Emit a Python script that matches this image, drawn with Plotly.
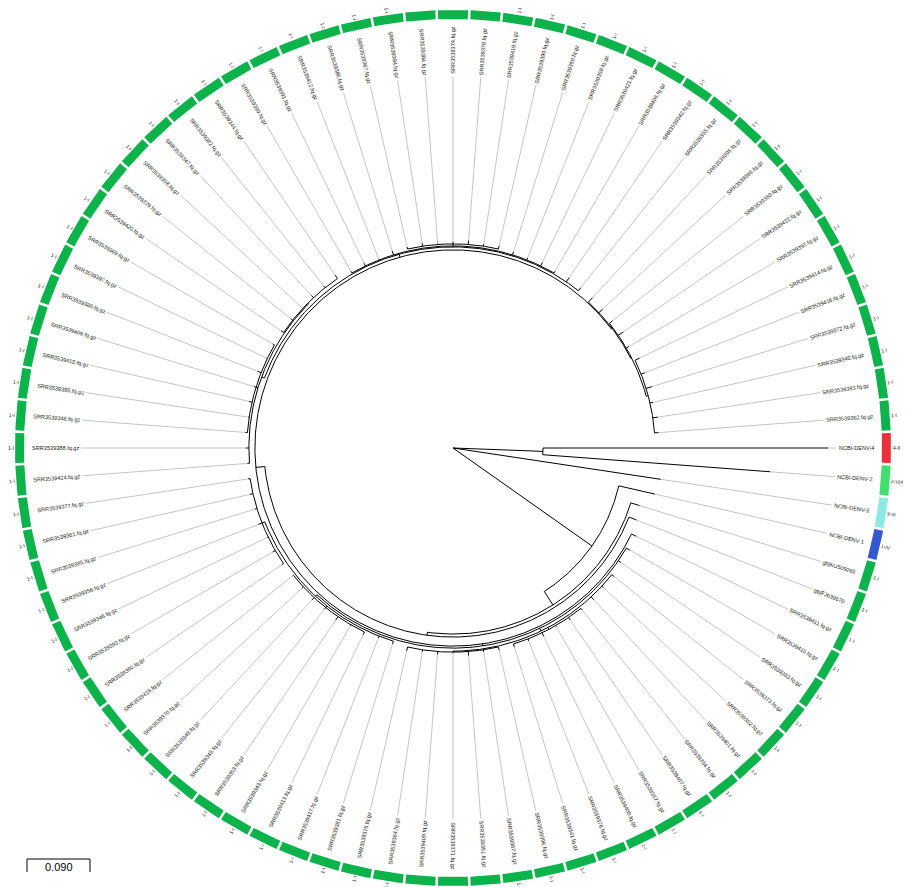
import math
import plotly.graph_objects as go

# ---------------- data ----------------
tip_labels = [
    "NCBI-DENV-4", "NCBI-DENV-2", "NCBI-DENV-3", "NCBI-DENV-1", "gb|KU509265", "gb|FJ639670",
    "SRR3539411.fq.gz", "SRR3539415.fq.gz", "SRR3539363.fq.gz", "SRR3539373.fq.gz",
    "SRR3539352.fq.gz", "SRR3539401.fq.gz", "SRR3539354.fq.gz", "SRR3539407.fq.gz",
    "SRR3539357.fq.gz", "SRR3539400.fq.gz", "SRR3539376.fq.gz", "SRR3539341.fq.gz",
    "SRR3539396.fq.gz", "SRR3539387.fq.gz", "SRR3539351.fq.gz", "SRR3539371.fq.gz",
    "SRR3539409.fq.gz", "SRR3539364.fq.gz", "SRR3539375.fq.gz", "SRR3539381.fq.gz",
    "SRR3539417.fq.gz", "SRR3539413.fq.gz", "SRR3539343.fq.gz", "SRR3539353.fq.gz",
    "SRR3539345.fq.gz", "SRR3539349.fq.gz", "SRR3539370.fq.gz", "SRR3539418.fq.gz",
    "SRR3539360.fq.gz", "SRR3539393.fq.gz", "SRR3539346.fq.gz", "SRR3539356.fq.gz",
    "SRR3539385.fq.gz", "SRR3539361.fq.gz", "SRR3539377.fq.gz", "SRR3539424.fq.gz",
    "SRR3539388.fq.gz", "SRR3539348.fq.gz", "SRR3539395.fq.gz", "SRR3539410.fq.gz",
    "SRR3539408.fq.gz", "SRR3539380.fq.gz", "SRR3539397.fq.gz", "SRR3539369.fq.gz",
    "SRR3539420.fq.gz", "SRR3539379.fq.gz", "SRR3539358.fq.gz", "SRR3539347.fq.gz",
    "SRR3539382.fq.gz", "SRR3539344.fq.gz", "SRR3539399.fq.gz", "SRR3539391.fq.gz",
    "SRR3539412.fq.gz", "SRR3539386.fq.gz", "SRR3539367.fq.gz", "SRR3539394.fq.gz",
    "SRR3539384.fq.gz", "SRR3539374.fq.gz", "SRR3539378.fq.gz", "SRR3539419.fq.gz",
    "SRR3539390.fq.gz", "SRR3539350.fq.gz", "SRR3539359.fq.gz", "SRR3539421.fq.gz",
    "SRR3539406.fq.gz", "SRR3539342.fq.gz", "SRR3539355.fq.gz", "SRR3539398.fq.gz",
    "SRR3539366.fq.gz", "SRR3539389.fq.gz", "SRR3539422.fq.gz", "SRR3539392.fq.gz",
    "SRR3539414.fq.gz", "SRR3539416.fq.gz", "SRR3539372.fq.gz", "SRR3539340.fq.gz",
    "SRR3539383.fq.gz", "SRR3539362.fq.gz",
]

genotypes = ["4-II", "2-V(Asian)", "3-III", "1-IV"] + ["1-I"] * 80

genotype_colors = {
    "4-II": "#E8313A",
    "2-V(Asian)": "#3FE06D",
    "3-III": "#8DEBE3",
    "1-IV": "#3557CF",
    "1-I": "#0BB34A",
}

# tree topology with branch lengths (leaves refer to tip_labels by index)
newick = """
((0:0.4071,1:0.3257):0.1286,2:0.300,(3:0.0529,(4:0.0129,(5:0.0114,(6:0.0071,
(7:0.0057,8:0.0043,
 (9:0.0043,10:0.0029,11:0.0057,
  (12:0.0029,13:0.0043,14:0.0014,15:0.0057,16:0.0029,17:0.0043):0.0029,
  (18:0.0043,19:0.0029,20:0.0057,21:0.0014,22:0.0043,23:0.0029,24:0.0057):0.0014):0.0043,
 (25:0.0043,26:0.0029,
  (27:0.0043,28:0.0014,29:0.0057,30:0.0029,31:0.0043,32:0.0029,33:0.0014):0.0029,
  (34:0.0029,35:0.0043,36:0.0014,37:0.0057,38:0.0029,39:0.0043,40:0.0029):0.0043):0.0029):0.0029,
((41:0.0029,42:0.0043,
  (43:0.0029,44:0.0014,45:0.0043,46:0.0029,47:0.0057,48:0.0014,49:0.0029):0.0029,
  (50:0.0043,51:0.0029,52:0.0014,53:0.0043,54:0.0029,55:0.0057):0.0014):0.0043,
 (56:0.0029,57:0.0043,58:0.0014,59:0.0057,
  (60:0.0029,61:0.0043,62:0.0014,63:0.0029,64:0.0057,65:0.0029,66:0.0043):0.0029,
  67:0.0043,68:0.0029,69:0.0057,70:0.0029):0.0014,
 71:0.0071,72:0.0057):0.0043,
(73:0.0086,74:0.0071,
 (75:0.0057,76:0.0086,77:0.0043,
  (78:0.0071,79:0.0057,80:0.0086,81:0.0043,82:0.0071,83:0.0057):0.0029):0.0014):0.0014
):0.0129):0.0043):0.0229):0.2429);
"""

scale_bar_value = 0.090
scale_bar_label = "0.090"

# ---------------- geometry constants (figure pixels; page adds an 8px body margin) ----------------
W, H = 903, 879
CX, CY = 445, 440          # tree centre in figure pixels
PX = 700.0                 # pixels per branch-length unit
LABEL_END_PX = 421
RING_IN_PX, RING_OUT_PX = 429, 438
RING_LABEL_PX = 438.5
TIP_FONT = 5.6
RING_FONT = 5.0
FONT_FAMILY = "Liberation Sans, Arial, Helvetica, sans-serif"

# Arial-compatible glyph widths (per 1000 em)
CW = {c: 556 for c in "0123456789"}
CW.update({"S": 667, "R": 722, ".": 278, "f": 278, "q": 556, "g": 556, "z": 500,
           "N": 722, "C": 722, "B": 667, "I": 278, "-": 333, "D": 722, "E": 667,
           "V": 667, "b": 556, "|": 260, "K": 667, "U": 722, "F": 611, "J": 500,
           "A": 667, "s": 500, "i": 222, "a": 556, "n": 556, "(": 333, ")": 333})


def text_w(t, size):
    return sum(CW.get(c, 556) for c in t) / 1000.0 * size


# ---------------- parse newick ----------------
def parse_newick(s):
    s = "".join(s.split())
    pos = 0

    def node():
        nonlocal pos
        n = {"children": [], "name": None, "len": 0.0}
        if s[pos] == "(":
            pos += 1
            while True:
                n["children"].append(node())
                if s[pos] == ",":
                    pos += 1
                    continue
                if s[pos] == ")":
                    pos += 1
                    break
        st = pos
        while pos < len(s) and s[pos] not in ",():;":
            pos += 1
        nm = s[st:pos]
        n["name"] = nm if nm else None
        if pos < len(s) and s[pos] == ":":
            pos += 1
            st = pos
            while pos < len(s) and s[pos] not in ",();":
                pos += 1
            n["len"] = float(s[st:pos])
        return n

    return node()


root = parse_newick(newick)
n_leaves = len(tip_labels)
step = 360.0 / n_leaves
counter = [0]
leaves = []


def layout(n, r0):
    n["r"] = r0 + n["len"]
    if not n["children"]:
        n["theta"] = -counter[0] * step
        counter[0] += 1
        leaves.append(n)
    else:
        for c in n["children"]:
            layout(c, n["r"])
        n["theta"] = (n["children"][0]["theta"] + n["children"][-1]["theta"]) / 2.0


layout(root, 0.0)


def pol(r, th):
    a = math.radians(th)
    return r * math.cos(a), r * math.sin(a)


# ---------------- tree edges ----------------
ex, ey = [], []


def edges(n):
    for c in n["children"]:
        x0, y0 = pol(n["r"], c["theta"])
        x1, y1 = pol(c["r"], c["theta"])
        ex.extend([x0, x1, None])
        ey.extend([y0, y1, None])
        edges(c)
    if n["children"] and n["r"] > 0:
        t0 = n["children"][0]["theta"]
        t1 = n["children"][-1]["theta"]
        k = max(2, int(abs(t1 - t0) / 0.5) + 1)
        for i in range(k + 1):
            x, y = pol(n["r"], t0 + (t1 - t0) * i / k)
            ex.append(x)
            ey.append(y)
        ex.append(None)
        ey.append(None)


edges(root)

# ---------------- leaders, labels ----------------
lx, ly = [], []
annotations = []
for lf in leaves:
    idx = int(lf["name"])
    lab = tip_labels[idx]
    th = lf["theta"]
    w = text_w(lab, TIP_FONT)
    r_end = LABEL_END_PX / PX
    r_start = (LABEL_END_PX - w) / PX
    x0, y0 = pol(lf["r"], th)
    x1, y1 = pol(r_start - 2.0 / PX, th)
    lx.extend([x0, x1, None])
    ly.extend([y0, y1, None])
    tn = ((th + 180) % 360) - 180
    if -90.001 <= tn <= 90.001:
        ang = -tn
    else:
        ang = -(tn + 180)
    ang = ((ang + 180) % 360) - 180
    cx, cy = pol((r_start + r_end) / 2.0, th)
    annotations.append(dict(x=cx, y=cy, xref="x", yref="y", text=lab, showarrow=False,
                            textangle=ang, xanchor="center", yanchor="middle",
                            font=dict(size=TIP_FONT, family=FONT_FAMILY, color="#1a1a1a")))
    g = genotypes[idx]
    gw = text_w(g, RING_FONT)
    gx, gy = pol((RING_LABEL_PX + gw / 2.0 + 1) / PX, th)
    annotations.append(dict(x=gx, y=gy, xref="x", yref="y", text=g, showarrow=False,
                            textangle=ang, xanchor="center", yanchor="middle",
                            font=dict(size=RING_FONT, family=FONT_FAMILY, color="#222222")))

# ---------------- colour ring ----------------
ring = {}
half = step / 2.0 - 0.17
for lf in leaves:
    idx = int(lf["name"])
    g = genotypes[idx]
    th = lf["theta"]
    xs, ys = [], []
    k = 8
    for i in range(k + 1):
        x, y = pol(RING_OUT_PX / PX, th - half + 2 * half * i / k)
        xs.append(x); ys.append(y)
    for i in range(k + 1):
        x, y = pol(RING_IN_PX / PX, th + half - 2 * half * i / k)
        xs.append(x); ys.append(y)
    xs.append(xs[0]); ys.append(ys[0])
    d = ring.setdefault(g, ([], []))
    d[0].extend(xs + [None])
    d[1].extend(ys + [None])

fig = go.Figure()
for g, (xs, ys) in ring.items():
    fig.add_trace(go.Scatter(x=xs, y=ys, mode="lines", fill="toself",
                             fillcolor=genotype_colors[g], line=dict(width=0),
                             hoverinfo="skip", name=g))

fig.add_trace(go.Scatter(x=lx, y=ly, mode="lines",
                         line=dict(color="#9c9c9c", width=0.6), hoverinfo="skip"))
fig.add_trace(go.Scatter(x=ex, y=ey, mode="lines",
                         line=dict(color="#000000", width=1.0), hoverinfo="skip"))

# ---------------- scale bar ----------------
sb_x0 = (19 - CX) / PX
sb_y = (CY - 851) / PX
sb_yb = (CY - 864) / PX
fig.add_trace(go.Scatter(
    x=[sb_x0, sb_x0, sb_x0 + scale_bar_value, sb_x0 + scale_bar_value],
    y=[sb_yb, sb_y, sb_y, sb_yb], mode="lines",
    line=dict(color="#000000", width=1), hoverinfo="skip"))
annotations.append(dict(x=sb_x0 + scale_bar_value / 2, y=(CY - 859) / PX, xref="x", yref="y",
                        text=scale_bar_label, showarrow=False, xanchor="center",
                        yanchor="middle",
                        font=dict(size=11, family=FONT_FAMILY, color="#000000")))

fig.update_layout(
    width=W, height=H, margin=dict(l=0, r=0, t=0, b=0),
    paper_bgcolor="white", plot_bgcolor="white", showlegend=False,
    xaxis=dict(range=[-CX / PX, (W - CX) / PX], visible=False, fixedrange=True),
    yaxis=dict(range=[-(H - CY) / PX, CY / PX], visible=False, fixedrange=True),
    annotations=annotations,
)
fig.write_html("out.html")
